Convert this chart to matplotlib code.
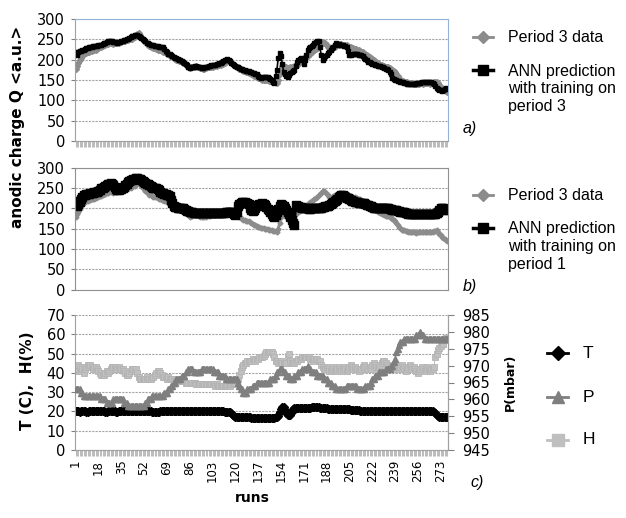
import matplotlib.pyplot as plt
from matplotlib.lines import Line2D

# run index 1..278
runs = list(range(1, 279))
tick_runs = list(range(1, 279, 17))

# anodic charge of period 3 (measured)
q_period3 = [
    178, 185, 192, 198, 205, 210, 213, 216, 217, 219,
    220, 221, 222, 223, 224, 225, 227, 228, 230, 231,
    233, 235, 236, 238, 239, 240, 241, 240, 239, 240,
    241, 241, 242, 243, 244, 245, 246, 247, 248, 249,
    250, 251, 252, 254, 256, 259, 262, 266, 260, 255,
    250, 247, 243, 240, 237, 234, 232, 230, 229, 228,
    227, 225, 224, 223, 221, 220, 218, 217, 215, 213,
    210, 208, 206, 204, 202, 200, 199, 197, 196, 194,
    193, 191, 188, 186, 183, 180, 181, 182, 183, 183,
    184, 183, 181, 180, 179, 178, 178, 179, 181, 182,
    182, 183, 183, 184, 184, 185, 186, 187, 188, 189,
    190, 192, 195, 197, 197, 196, 193, 190, 187, 185,
    183, 181, 178, 176, 174, 172, 171, 170, 169, 168,
    166, 164, 162, 160, 159, 157, 155, 154, 152, 151,
    151, 150, 149, 149, 148, 147, 146, 145, 144, 144,
    143, 150, 165, 178, 185, 184, 182, 181, 180, 180,
    181, 182, 183, 185, 186, 188, 190, 194, 198, 201,
    203, 205, 208, 210, 213, 215, 218, 221, 223, 226,
    229, 232, 235, 239, 243, 242, 240, 236, 232, 229,
    226, 227, 230, 232, 234, 236, 237, 238, 238, 237,
    236, 236, 235, 233, 232, 231, 229, 228, 227, 226,
    225, 223, 222, 220, 218, 215, 213, 211, 209, 207,
    205, 202, 200, 197, 195, 192, 190, 188, 186, 185,
    184, 182, 181, 181, 180, 178, 175, 172, 169, 165,
    160, 155, 151, 148, 147, 146, 145, 144, 143, 143,
    142, 142, 141, 141, 140, 141, 141, 142, 142, 141,
    142, 142, 143, 142, 141, 142, 143, 144, 145, 146,
    142, 138, 134, 130, 127, 125, 122, 120,
]

# ANN trained on period 3
ann_p3 = [
    218, 212, 220, 221, 222, 224, 225, 226, 228, 229,
    231, 232, 232, 233, 233, 233, 234, 235, 236, 237,
    238, 240, 242, 244, 245, 246, 246, 245, 244, 243,
    243, 242, 243, 244, 245, 246, 248, 249, 251, 252,
    254, 255, 257, 258, 260, 261, 260, 258, 255, 253,
    251, 248, 245, 242, 240, 238, 237, 236, 235, 234,
    234, 233, 232, 231, 231, 230, 226, 222, 218, 215,
    213, 211, 209, 207, 205, 203, 201, 200, 198, 196,
    195, 192, 189, 186, 183, 180, 181, 182, 183, 184,
    184, 183, 182, 181, 180, 180, 181, 182, 183, 184,
    185, 186, 187, 187, 188, 189, 190, 192, 193, 195,
    197, 199, 200, 201, 199, 196, 193, 190, 187, 185,
    183, 181, 180, 178, 177, 175, 174, 173, 172, 171,
    170, 169, 168, 166, 165, 164, 161, 158, 155, 157,
    158, 158, 158, 157, 155, 152, 149, 146, 143, 160,
    175, 205, 216, 210, 190, 170, 164, 161, 158, 163,
    167, 170, 173, 175, 185, 195, 199, 201, 203, 198,
    190, 200, 212, 224, 228, 232, 234, 236, 240, 244,
    245, 246, 230, 212, 199, 203, 208, 211, 216, 220,
    224, 228, 232, 236, 240, 239, 238, 237, 236, 235,
    234, 233, 232, 222, 211, 212, 213, 214, 215, 214,
    213, 212, 211, 211, 208, 205, 202, 199, 195, 194,
    192, 190, 189, 187, 186, 185, 184, 184, 183, 181,
    180, 178, 177, 175, 170, 164, 156, 153, 150, 149,
    148, 147, 146, 145, 144, 142, 142, 141, 141, 140,
    140, 140, 141, 141, 142, 142, 143, 143, 144, 144,
    145, 145, 146, 146, 145, 144, 142, 140, 136, 131,
    128, 126, 125, 124, 125, 127, 130, 128,
]

# ANN trained on period 1
ann_p1 = [
    218, 205, 210, 216, 222, 228, 233, 234, 235, 236,
    236, 237, 238, 239, 240, 241, 241, 243, 246, 249,
    251, 253, 255, 257, 259, 261, 262, 260, 257, 252,
    247, 245, 246, 247, 248, 249, 253, 257, 261, 265,
    267, 269, 270, 271, 273, 274, 274, 273, 272, 270,
    268, 266, 263, 261, 259, 257, 255, 253, 251, 249,
    249, 247, 244, 241, 239, 237, 236, 235, 234, 233,
    230, 220, 212, 206, 204, 203, 202, 201, 201, 200,
    200, 198, 196, 194, 193, 192, 191, 190, 189, 188,
    188, 188, 188, 188, 188, 188, 188, 188, 188, 188,
    188, 188, 188, 189, 189, 189, 188, 188, 188, 188,
    188, 189, 190, 191, 192, 192, 192, 190, 186, 183,
    192, 205, 210, 213, 215, 216, 215, 214, 213, 210,
    200, 195, 193, 195, 200, 205, 208, 210, 211, 212,
    211, 208, 204, 198, 195, 190, 185, 182, 180, 183,
    190, 198, 205, 210, 208, 205, 200, 195, 190, 185,
    180, 172, 165, 159, 208, 206, 205, 204, 203, 202,
    201, 200, 200, 200, 199, 199, 200, 200, 200, 201,
    201, 202, 202, 202, 203, 204, 205, 206, 207, 208,
    210, 212, 215, 218, 221, 224, 227, 230, 233, 232,
    230, 228, 226, 225, 223, 221, 219, 217, 216, 215,
    215, 214, 214, 213, 213, 212, 211, 209, 208, 206,
    205, 204, 202, 200, 200, 200, 200, 200, 200, 200,
    200, 200, 200, 200, 199, 198, 197, 196, 195, 195,
    194, 193, 192, 192, 191, 190, 189, 188, 187, 187,
    186, 186, 185, 185, 185, 185, 185, 185, 185, 185,
    185, 185, 185, 185, 185, 186, 186, 187, 187, 188,
    190, 195, 200, 201, 200, 198, 196, 195,
]

# temperature (C)
temp_c = [
    20.3, 20.1, 20.0, 19.9, 20.0, 20.0, 20.1, 20.0, 19.9, 19.9,
    20.0, 20.0, 20.1, 20.1, 20.0, 20.0, 20.0, 20.1, 20.1, 20.0,
    20.0, 20.0, 19.9, 19.9, 20.0, 20.0, 20.1, 20.1, 20.0, 20.0,
    19.9, 19.9, 20.0, 20.0, 20.0, 20.1, 20.2, 20.2, 20.1, 20.1,
    20.0, 20.0, 20.1, 20.2, 20.2, 20.2, 20.1, 20.0, 20.1, 20.2,
    20.3, 20.3, 20.2, 20.1, 20.0, 20.0, 20.0, 19.9, 19.8, 19.8,
    19.8, 19.9, 19.9, 20.0, 20.0, 20.0, 20.0, 20.0, 20.0, 20.0,
    20.0, 20.0, 20.0, 20.0, 20.0, 20.0, 20.0, 20.0, 20.0, 20.0,
    20.0, 20.0, 20.0, 20.1, 20.1, 20.1, 20.0, 20.0, 20.0, 20.0,
    20.0, 20.0, 20.0, 20.0, 20.0, 20.0, 20.0, 20.0, 20.0, 20.0,
    20.0, 20.0, 20.0, 20.0, 20.0, 20.0, 20.0, 20.0, 20.0, 20.0,
    20.0, 19.9, 19.9, 19.8, 19.8, 19.6, 19.0, 18.0, 17.5, 17.3,
    17.2, 17.2, 17.2, 17.1, 17.1, 17.0, 17.0, 16.9, 16.9, 16.9,
    16.9, 16.8, 16.8, 16.8, 16.8, 16.8, 16.8, 16.8, 16.8, 16.8,
    16.8, 16.8, 16.8, 16.8, 16.8, 16.8, 16.8, 16.8, 16.8, 16.9,
    17.0, 17.5, 19.5, 21.5, 22.3, 22.2, 21.0, 19.0, 18.2, 18.0,
    18.3, 19.8, 21.2, 21.6, 21.7, 21.8, 21.8, 21.9, 21.9, 22.0,
    22.0, 22.0, 22.0, 22.0, 22.0, 22.0, 22.1, 22.1, 22.1, 22.1,
    22.1, 22.1, 22.0, 22.0, 21.9, 21.8, 21.7, 21.6, 21.5, 21.4,
    21.3, 21.3, 21.2, 21.2, 21.2, 21.2, 21.2, 21.2, 21.2, 21.3,
    21.3, 21.3, 21.4, 21.3, 21.2, 21.0, 20.8, 20.7, 20.6, 20.6,
    20.5, 20.5, 20.4, 20.3, 20.2, 20.2, 20.1, 20.1, 20.0, 20.0,
    20.0, 20.0, 20.0, 20.0, 20.0, 20.0, 20.0, 20.0, 20.0, 20.0,
    20.0, 20.0, 20.0, 20.0, 20.0, 20.0, 20.0, 20.0, 20.0, 20.0,
    20.0, 20.0, 20.0, 20.0, 20.0, 20.0, 20.0, 20.0, 20.0, 20.0,
    20.0, 20.0, 20.0, 20.0, 20.0, 20.0, 20.0, 20.0, 20.0, 20.0,
    20.0, 20.0, 20.0, 20.0, 20.0, 20.0, 20.0, 19.8, 19.2, 18.3,
    17.6, 17.3, 17.2, 17.2, 17.2, 17.2, 17.2, 17.2,
]

# pressure (mbar)
press_mbar = [
    963, 963, 963, 963, 962, 962, 961, 961, 961, 961,
    961, 961, 961, 961, 961, 961, 961, 961, 961, 960,
    960, 960, 960, 959, 959, 959, 959, 959, 960, 960,
    960, 960, 960, 960, 960, 960, 959, 959, 959, 958,
    958, 958, 958, 958, 958, 958, 958, 958, 958, 958,
    958, 958, 959, 959, 960, 960, 960, 961, 961, 961,
    961, 961, 961, 961, 961, 961, 962, 962, 962, 963,
    963, 964, 964, 965, 965, 966, 966, 966, 966, 967,
    967, 967, 968, 968, 969, 969, 969, 969, 968, 968,
    968, 968, 968, 968, 969, 969, 969, 969, 969, 969,
    969, 969, 969, 968, 968, 968, 968, 967, 967, 967,
    967, 967, 966, 966, 966, 966, 966, 966, 966, 966,
    966, 965, 964, 963, 963, 962, 962, 962, 963, 963,
    963, 963, 964, 964, 964, 965, 965, 965, 965, 965,
    965, 965, 965, 965, 965, 966, 966, 966, 966, 967,
    968, 968, 969, 969, 969, 968, 968, 967, 967, 967,
    966, 966, 966, 967, 967, 967, 968, 968, 968, 969,
    969, 969, 969, 970, 969, 969, 968, 968, 968, 968,
    967, 967, 967, 967, 967, 966, 966, 966, 965, 965,
    965, 964, 964, 964, 963, 963, 963, 963, 963, 963,
    963, 963, 964, 964, 964, 964, 964, 964, 964, 964,
    963, 963, 963, 963, 963, 963, 964, 964, 964, 964,
    965, 966, 966, 967, 967, 967, 968, 968, 968, 968,
    968, 969, 969, 969, 969, 970, 970, 971, 972, 974,
    975, 976, 977, 977, 977, 978, 978, 978, 978, 978,
    978, 978, 978, 978, 979, 979, 979, 980, 979, 979,
    978, 978, 978, 978, 978, 978, 978, 978, 978, 978,
    978, 978, 978, 978, 978, 978, 978, 978,
]

# relative humidity (%)
humid_pct = [
    41, 42, 44, 43, 41, 42, 40, 42, 43, 44,
    43, 44, 43, 42, 43, 43, 42, 41, 40, 39,
    39, 39, 40, 41, 40, 41, 42, 43, 43, 42,
    43, 42, 43, 42, 42, 42, 41, 40, 39, 39,
    40, 41, 42, 42, 41, 42, 40, 38, 37, 37,
    37, 37, 37, 38, 37, 37, 37, 38, 38, 39,
    40, 41, 41, 40, 39, 38, 38, 38, 37, 38,
    37, 37, 37, 37, 36, 36, 36, 36, 36, 36,
    36, 36, 35, 35, 35, 35, 35, 35, 35, 35,
    34, 34, 34, 34, 34, 34, 34, 34, 34, 34,
    34, 34, 34, 34, 33, 34, 33, 33, 33, 33,
    33, 33, 33, 33, 33, 33, 34, 34, 35, 35,
    36, 37, 39, 41, 43, 44, 45, 45, 46, 46,
    46, 46, 47, 47, 46, 47, 47, 48, 48, 48,
    49, 50, 51, 51, 51, 51, 51, 50, 48, 46,
    46, 45, 45, 46, 45, 45, 45, 45, 49, 50,
    46, 45, 45, 45, 46, 46, 47, 47, 47, 48,
    48, 48, 48, 48, 48, 47, 47, 46, 47, 47,
    47, 46, 46, 44, 43, 42, 42, 43, 42, 41,
    41, 42, 43, 42, 41, 42, 43, 42, 41, 42,
    43, 42, 41, 42, 43, 44, 43, 42, 43, 42,
    42, 41, 42, 42, 43, 44, 43, 42, 42, 43,
    42, 44, 45, 44, 43, 42, 43, 44, 45, 46,
    46, 45, 44, 43, 42, 43, 44, 42, 43, 44,
    43, 42, 43, 44, 43, 42, 41, 42, 43, 44,
    43, 42, 43, 42, 41, 40, 41, 42, 43, 42,
    41, 42, 43, 42, 41, 42, 42, 43, 48, 50,
    52, 53, 54, 55, 55, 57, 58, 58,
]

W, H = 626, 518
fig = plt.figure(figsize=(W / 100, H / 100), dpi=100)


def box(top, bottom, left=75, right=448):
    # pixel edges -> figure fraction rect
    return [left / W, 1 - bottom / H, (right - left) / W, (bottom - top) / H]


def fx(x):
    return x / W


def fy(y):
    return 1 - y / H


GREY = '#8C8C8C'
SPINE = '#A0A0A0'
LEG_FONT = 'Liberation Sans'


def style(ax, ymax, step):
    ax.set_xlim(0.5, 278.5)
    ax.set_ylim(0, ymax)
    ax.set_yticks(range(0, ymax + 1, step))
    ax.yaxis.grid(True, color='#A6A6A6', lw=0.8, ls=(0, (2, 1)))
    ax.set_axisbelow(True)
    ax.tick_params(axis='y', direction='out', length=3, color='#808080',
                   labelsize=10.5, pad=4)
    for s in ax.spines.values():
        s.set_color(SPINE)


def cat_ticks(ax, labels):
    ax.set_xticks(runs)
    if labels:
        ax.set_xticklabels([str(r) if r in tick_runs else '' for r in runs],
                           rotation=90, fontsize=8.5)
    else:
        ax.set_xticklabels([])
    ax.tick_params(axis='x', direction='out', length=4, width=0.5,
                   color=SPINE, pad=3)


# a) ANN trained on period 3
ax_a = fig.add_axes(box(19, 141))
style(ax_a, 300, 50)
cat_ticks(ax_a, False)
ax_a.plot(runs, q_period3, color=GREY, lw=2, marker='D', ms=3, mec=GREY)
ax_a.plot(runs, ann_p3, color='black', lw=1.2, marker='s', ms=3.5)
ax_a.spines['top'].set_color('#95B3D7')
ax_a.spines['right'].set_color('#95B3D7')

# b) ANN trained on period 1
ax_b = fig.add_axes(box(167.7, 289.7))
style(ax_b, 300, 50)
ax_b.set_xticks([])
ax_b.plot(runs, q_period3, color=GREY, lw=2, marker='D', ms=2.5, mec=GREY)
ax_b.plot(runs, ann_p1, color='black', lw=2, marker='s', ms=5.5)
for s in ax_b.spines.values():
    s.set_color('#909090')

# c) ambient conditions
ax_c = fig.add_axes(box(315, 450))
style(ax_c, 70, 10)
cat_ticks(ax_c, True)
ax_c.spines['top'].set_visible(False)
ax_c.plot(runs, temp_c, color='black', lw=2.5, marker='D', ms=4)
ax_c.plot(runs, humid_pct, color='#C0C0C0', lw=0.8, marker='s', ms=4,
          mec='#B4B4B4', mew=0.6)

ax_p = ax_c.twinx()
ax_p.set_xlim(0.5, 278.5)
ax_p.set_ylim(945, 985)
ax_p.set_yticks(range(945, 986, 5))
ax_p.tick_params(axis='y', direction='out', length=4, color='#808080',
                 labelsize=10.5, pad=6)
for s in ax_p.spines.values():
    s.set_visible(False)
ax_p.spines['right'].set_visible(True)
ax_p.spines['right'].set_color(SPINE)
ax_p.plot(runs, press_mbar, color='#7F7F7F', lw=0.8, marker='^', ms=5,
          mec='#7F7F7F')

# axis titles
fig.text(fx(18), fy(127), 'anodic charge Q <a.u.>', rotation=90,
         ha='center', va='center', fontsize=11, fontweight='bold')
fig.text(fx(27), fy(381), 'T (C),  H(%)', rotation=90,
         ha='center', va='center', fontsize=11, fontweight='bold')
fig.text(fx(510), fy(382), 'P(mbar)', rotation=90,
         ha='center', va='center', fontsize=9, fontweight='bold')
fig.text(fx(252), fy(498), 'runs', ha='center', va='center',
         fontsize=10, fontweight='bold')


def legend_item(x0, x1, y, color, marker, ms, lw=2):
    fig.add_artist(Line2D([fx(x0), fx(x1)], [fy(y), fy(y)],
                          transform=fig.transFigure, color=color, lw=lw))
    fig.add_artist(Line2D([fx((x0 + x1) / 2)], [fy(y)],
                          transform=fig.transFigure, lw=0, marker=marker,
                          ms=ms, color=color, mec=color))


def ltext(x, y, s, size=11.5, style='normal'):
    fig.text(fx(x), fy(y), s, ha='left', va='center', fontsize=size,
             family=LEG_FONT, style=style)


for top, period, tag in ((37, '3', 'a)'), (195, '1', 'b)')):
    legend_item(473, 493, top, GREY, 'D', 6)
    ltext(508, top, 'Period 3 data')
    legend_item(473, 493, top + 33, 'black', 's', 7, lw=2.5)
    ltext(508, top + 34, 'ANN prediction')
    ltext(508, top + 52, 'with training on')
    ltext(508, top + 70, 'period ' + period)
    ltext(463, top + 91, tag, style='italic')

legend_item(547, 568, 353, 'black', 'D', 7)
ltext(583, 353, 'T', size=12.5)
legend_item(547, 568, 397, '#7F7F7F', '^', 9)
ltext(583, 397, 'P', size=12.5)
legend_item(547, 568, 440, '#BFBFBF', 's', 8)
ltext(583, 440, 'H', size=12.5)
ltext(470, 482, 'c)', style='italic')

fig.savefig('out.png', dpi=100)
